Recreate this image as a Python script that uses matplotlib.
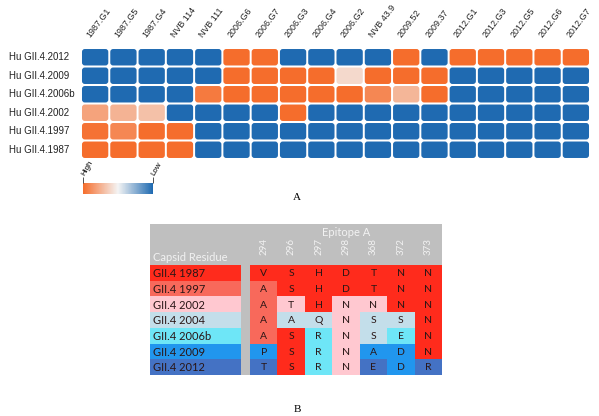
import numpy as np
import matplotlib
matplotlib.use('Agg')
import matplotlib.pyplot as plt
from matplotlib.colors import LinearSegmentedColormap, ListedColormap, Normalize
from matplotlib.patches import FancyBboxPatch
from matplotlib.cm import ScalarMappable

# ---------------- Panel A data ----------------
strains_A = ['Hu GII.4.2012', 'Hu GII.4.2009', 'Hu GII.4.2006b',
             'Hu GII.4.2002', 'Hu GII.4.1997', 'Hu GII.4.1987']
antibodies = ['1987.G1', '1987.G5', '1987.G4', 'NVB 114', 'NVB 111',
              '2006.G6', '2006.G7', '2006.G3', '2006.G4', '2006.G2',
              'NVB 43.9', '2009.52', '2009.37', '2012.G1', '2012.G3',
              '2012.G5', '2012.G6', '2012.G7']
# reactivity: 1 = high, 0 = low
react_2012 = [0, 0, 0, 0, 0, 1, 1, 0, 0, 0, 0, 1, 0, 1, 1, 1, 1, 1]
react_2009 = [0, 0, 0, 0, 0, 1, 1, 1, 1, 0.6, 1, 1, 1, 0, 0, 0, 0, 0]
react_2006b = [0, 0, 0, 0, 0.95, 1, 1, 1, 1, 1, 0.9, 0.73, 1, 0, 0, 0, 0, 0]
react_2002 = [0.8, 0.74, 0.69, 0, 0, 0, 0, 1, 0, 0, 0, 0, 0, 0, 0, 0, 0, 0]
react_1997 = [0.98, 0.9, 1, 1, 0, 0, 0, 0, 0, 0, 0, 0, 0, 0, 0, 0, 0, 0]
react_1987 = [1, 1, 1, 1, 0, 0, 0, 0, 0, 0, 0, 0, 0, 0, 0, 0, 0, 0]
react = [react_2012, react_2009, react_2006b, react_2002, react_1997, react_1987]

# ---------------- Panel B data ----------------
strains_B = ['GII.4 1987', 'GII.4 1997', 'GII.4 2002', 'GII.4 2004',
             'GII.4 2006b', 'GII.4 2009', 'GII.4 2012']
residues = ['294', '296', '297', '298', '368', '372', '373']
aa_1987 = ['V', 'S', 'H', 'D', 'T', 'N', 'N']
aa_1997 = ['A', 'S', 'H', 'D', 'T', 'N', 'N']
aa_2002 = ['A', 'T', 'H', 'N', 'N', 'N', 'N']
aa_2004 = ['A', 'A', 'Q', 'N', 'S', 'S', 'N']
aa_2006b = ['A', 'S', 'R', 'N', 'S', 'E', 'N']
aa_2009 = ['P', 'S', 'R', 'N', 'A', 'D', 'N']
aa_2012 = ['T', 'S', 'R', 'N', 'E', 'D', 'R']
amino = [aa_1987, aa_1997, aa_2002, aa_2004, aa_2006b, aa_2009, aa_2012]
# which strain's colour each residue cell carries (index into strains_B)
grp_1987 = [0, 0, 0, 0, 0, 0, 0]
grp_1997 = [1, 0, 0, 0, 0, 0, 0]
grp_2002 = [1, 2, 0, 2, 2, 0, 0]
grp_2004 = [1, 3, 3, 2, 3, 3, 0]
grp_2006b = [1, 0, 4, 2, 3, 4, 0]
grp_2009 = [5, 0, 4, 2, 5, 5, 0]
grp_2012 = [6, 0, 4, 2, 6, 5, 6]
groups = [grp_1987, grp_1997, grp_2002, grp_2004, grp_2006b, grp_2009, grp_2012]
strain_colors = ['#FF2B1C', '#F8695B', '#FFC8D0', '#C3DEEA',
                 '#6EE6F7', '#2196EE', '#4472C4']

W, H = 599, 416
fig = plt.figure(figsize=(W / 100, H / 100), dpi=100)
fig.patch.set_facecolor('white')

def fx(px):
    return px / W

def fy(py):
    return 1 - py / H

# ---------------- Panel A ----------------
cmap = LinearSegmentedColormap.from_list(
    'hl', [(0.0, '#1F6AB1'), (0.5, '#F4F4F4'), (1.0, '#F56D2C')])
norm = Normalize(0, 1)

axA = fig.add_axes([fx(81), fy(159), fx(590 - 81), (159 - 48) / H])
nrow, ncol = len(strains_A), len(antibodies)
axA.set_xlim(0, ncol)
axA.set_ylim(0, nrow)
axA.axis('off')
gx, gy = 0.035, 0.055
for i, row in enumerate(react):
    for j, v in enumerate(row):
        y0 = nrow - 1 - i
        p = FancyBboxPatch((j + gx, y0 + gy), 1 - 2 * gx, 1 - 2 * gy,
                           boxstyle='round,pad=0,rounding_size=0.1',
                           mutation_aspect=1.53,
                           facecolor=cmap(norm(v)), edgecolor='none')
        axA.add_patch(p)
for i, s in enumerate(strains_A):
    axA.text(-72 / 28.3, nrow - 1 - i + 0.5, s, ha='left', va='center',
             fontsize=7, family='Liberation Sans', color='#222222')
for j, a in enumerate(antibodies):
    axA.text(j + 0.38, nrow + 0.45, a, rotation=53, rotation_mode='anchor',
             ha='left', va='bottom', fontsize=6.4, family='Liberation Sans',
             color='#222222')

# colour bar
cax = fig.add_axes([fx(83), fy(194), fx(153 - 83), 11 / H])
sm = ScalarMappable(norm=norm, cmap=cmap)
cb = fig.colorbar(sm, cax=cax, orientation='horizontal')
cb.outline.set_visible(False)
cax.invert_xaxis()
cax.xaxis.set_ticks_position('top')
cb.set_ticks([1, 0])
cb.set_ticklabels(['High', 'Low'])
cax.tick_params(axis='x', length=4, width=0.6, color='#333333', pad=1.5)
for t in cax.get_xticklabels():
    t.set_rotation(60)
    t.set_rotation_mode('anchor')
    t.set_ha('left')
    t.set_va('center')
    t.set_fontsize(5.8)
    t.set_family('Liberation Sans')

fig.text(fx(297), fy(198), 'A', ha='center', va='center', fontsize=8,
         family='Liberation Serif')

# ---------------- Panel B ----------------
lab_w, gap_w = 3.32, 0.33
hdr = 2.6
axB = fig.add_axes([fx(150), fy(375), fx(442 - 150), (375 - 224) / H])
nr = len(strains_B)
nc = len(residues)
axB.set_xlim(0, lab_w + gap_w + nc)
axB.set_ylim(nr, -hdr)
axB.set_facecolor('#BFBFBF')
for sp in axB.spines.values():
    sp.set_visible(False)
axB.set_xticks([])
axB.set_yticks([])
lcmap = ListedColormap(strain_colors)
axB.pcolormesh([0, lab_w], np.arange(nr + 1),
               np.arange(nr).reshape(nr, 1), cmap=lcmap, vmin=-0.5,
               vmax=nr - 0.5)
x_edges = lab_w + gap_w + np.arange(nc + 1)
axB.pcolormesh(x_edges, np.arange(nr + 1), np.array(groups), cmap=lcmap,
               vmin=-0.5, vmax=nr - 0.5)
bfont = 'Lato'
txtc = '#2A1616'
for i, s in enumerate(strains_B):
    axB.text(0.12, i + 0.55, s, ha='left', va='center', fontsize=8,
             family=bfont, color=txtc)
    for j, a in enumerate(amino[i]):
        axB.text(lab_w + gap_w + j + 0.5, i + 0.55, a, ha='center',
                 va='center', fontsize=7.5, family=bfont, color=txtc)
for j, r in enumerate(residues):
    axB.text(lab_w + gap_w + j + 0.5, -1.15, r, rotation=90, ha='center',
             va='center', fontsize=7, family=bfont, color='#F2F2F2')
axB.text(lab_w + gap_w + nc / 2, -2.05, 'Epitope A', ha='center',
         va='center', fontsize=8, family=bfont, color='#F2F2F2')
axB.text(0.12, -0.5, 'Capsid Residue', ha='left', va='center', fontsize=8,
         family=bfont, color='#F2F2F2')

fig.text(fx(297), fy(410), 'B', ha='center', va='center', fontsize=8,
         family='Liberation Serif')

fig.savefig('out.png', dpi=100, facecolor='white')
